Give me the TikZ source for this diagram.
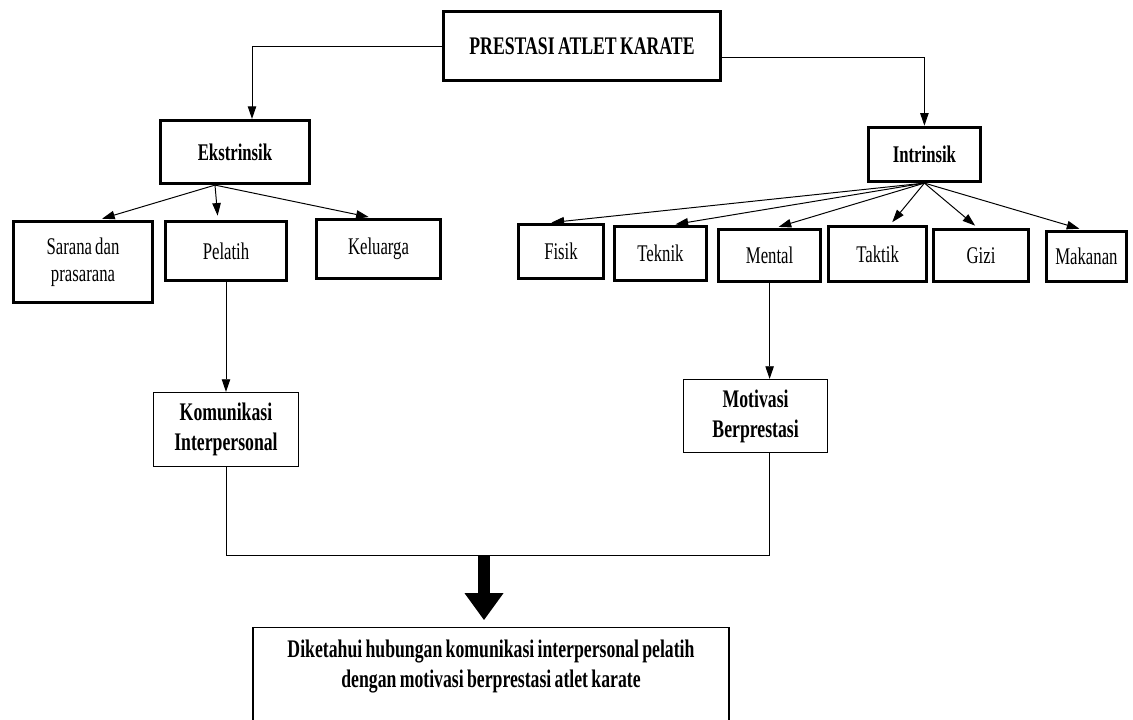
\documentclass[tikz,border=0pt]{standalone}
\usepackage{fontspec}
\setmainfont[FakeStretch=0.7, WordSpace=0.75]{Liberation Serif}
\usetikzlibrary{arrows.meta}

\begin{document}
\begin{tikzpicture}[
    box/.style={draw, line width=2.4pt, align=center, inner sep=1pt},
    thinbox/.style={draw, line width=1pt, align=center, inner sep=1pt,
        font=\bfseries\fontsize{18}{21.3}\selectfont},
    bold/.style={font=\bfseries\fontsize{17}{21.3}\selectfont},
    >={Triangle[length=9pt, width=6pt]},
    font=\fontsize{17}{19}\selectfont,
    line width=0.7pt
]
    \useasboundingbox (0,0) rectangle (28.325,-17.975);
    \clip (0,0) rectangle (28.325,-17.975);

    % 节点定义 (顶层)
    \node[box, font=\bfseries\fontsize{18}{20}\selectfont, minimum width=6.92cm, minimum height=1.72cm] (prestasi) at (14.55,-1.15) {PRESTASI ATLET KARATE};
    \node[box, bold, minimum width=3.72cm, minimum height=1.57cm] (eks) at (5.875,-3.8) {Ekstrinsik};
    \node[box, bold, minimum width=2.8cm, minimum height=1.35cm] (intr) at (23.11,-3.86) {Intrinsik};

    % 外在因素
    \node[box, minimum width=3.47cm, minimum height=2.02cm] (sarana) at (2.075,-6.55) {Sarana dan\\prasarana};
    \node[box, minimum width=3.02cm, minimum height=1.47cm] (pelatih) at (5.65,-6.275) {Pelatih};
    \node[box, minimum width=3.1cm, minimum height=1.47cm] (keluarga) at (9.4625,-6.225) {Keluarga};

    % 内在因素
    \node[box, minimum width=2.12cm, minimum height=1.35cm] (fisik) at (14.025,-6.29) {Fisik};
    \node[box, minimum width=2.3cm, minimum height=1.35cm] (teknik) at (16.51,-6.34) {Teknik};
    \node[box, minimum width=2.55cm, minimum height=1.3cm] (mental) at (19.24,-6.39) {Mental};
    \node[box, minimum width=2.45cm, minimum height=1.37cm] (taktik) at (21.94,-6.35) {Taktik};
    \node[box, minimum width=2.37cm, minimum height=1.3cm] (gizi) at (24.525,-6.39) {Gizi};
    \node[box, minimum width=2.0cm, minimum height=1.25cm] (makanan) at (27.16,-6.41) {Makanan};

    % 变量
    \node[thinbox, minimum width=3.62cm, minimum height=1.85cm] (kom) at (5.65,-10.74) {Komunikasi\\Interpersonal};
    \node[thinbox, minimum width=3.6cm, minimum height=1.82cm] (motiv) at (18.89,-10.4) {Motivasi\\Berprestasi};
    \node[thinbox, anchor=north, minimum width=11.9cm, inner ysep=9pt] (hasil) at (12.275,-15.675)
        {Diketahui hubungan komunikasi interpersonal pelatih\\dengan motivasi berprestasi atlet karate\\\rule{0pt}{2cm}};
    \coordinate (join) at (12.1,-13.875);

    % 1. 顶层箭头
    \draw[->] (prestasi.west) -| ([xshift=0.425cm]eks.north);
    \draw[->] ([yshift=-0.275cm]prestasi.east) -| (intr.north);

    % 2. 分支箭头
    \foreach \t/\dx in {sarana/0.375, pelatih/-0.2, keluarga/-0.14}
        \draw[->, shorten >=3pt] ([xshift=-0.5cm]eks.south) -- ([xshift=\dx cm]\t.north);
    \foreach \t/\dx in {fisik/-0.325, teknik/0.29, mental/0.14, taktik/0.31, gizi/-0.08, makanan/-0.09}
        \draw[->, shorten >=2.5pt] (intr.south) -- ([xshift=\dx cm]\t.north);

    % 3. 向下箭头
    \draw[->] (pelatih.south) -- (kom.north);
    \draw[->] (mental.south) -- (mental.south |- motiv.north);

    % 4. 汇合线与粗箭头
    \draw (kom.south) |- (mental.south |- join) -- (mental.south |- motiv.south);
    \draw[line width=0.3cm, -{Triangle[length=0.675cm, width=0.925cm]}, shorten >=0.17cm] (join) -- (join |- hasil.north);

\end{tikzpicture}
\end{document}
